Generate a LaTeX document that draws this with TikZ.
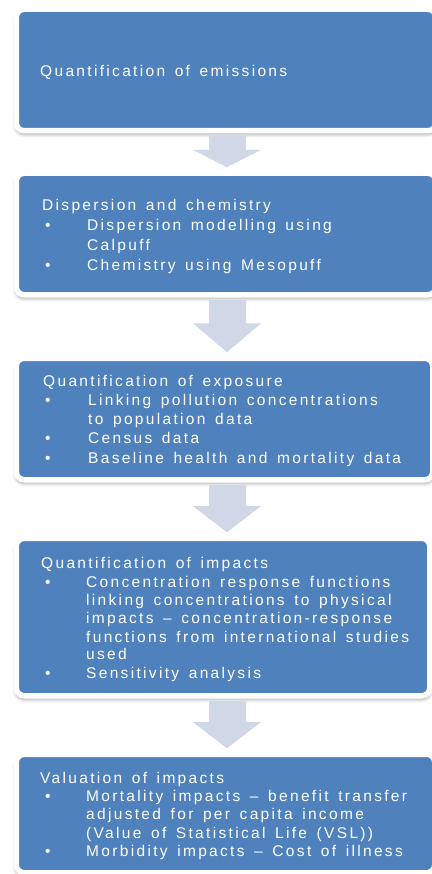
\documentclass[tikz,border=0pt]{standalone}
\usepackage{fontspec}
\setmainfont{Liberation Sans}[LetterSpace=15,WordSpace=1.45]
\usetikzlibrary{calc,shadows.blur}
\definecolor{boxblue}{HTML}{4F81BD}
\definecolor{arrowblue}{HTML}{D0D8E8}
\tikzset{
  stage/.style={draw=white, line width=5.5pt, fill=boxblue, rounded corners=8pt, inner sep=0pt,
    blur shadow={shadow xshift=0pt, shadow yshift=-3pt, shadow blur radius=4pt, shadow blur steps=6, shadow opacity=45}},
  txt/.style={anchor=base west, inner sep=0pt, text=white, font=\fontsize{15.5pt}{19pt}\selectfont},
  arrowfill/.style={fill=arrowblue}
}
\newcommand\blockarrow[2]{%
  \fill[arrowfill] let \p1=(#1.south), \p2=(#2.north),
    \n1={\y1-2.25pt}, \n2={\y2+3.25pt}, \n3={\n1+0.45*(\n2-\n1)} in
    (209pt,\n1) -- (209pt,\n3) -- (193pt,\n3) -- (227pt,\n2) -- (261pt,\n3)
    -- (246pt,\n3) -- (246pt,\n1) -- cycle;}
\begin{document}
\begin{tikzpicture}[x=1pt,y=-1pt]
\useasboundingbox (0,0) rectangle (431,874);
% boxes
\node[stage, minimum width=419.5pt, minimum height=121.5pt] (box1) at (226,70) {};
\node[stage, minimum width=419.5pt, minimum height=121.5pt] (box2) at (226,234) {};
\node[stage, minimum width=416.5pt, minimum height=121.5pt] (box3) at (224.5,419) {};
\node[stage, minimum width=413.5pt, minimum height=157.5pt] (box4) at (223,617) {};
\node[stage, minimum width=418.5pt, minimum height=118.5pt] (box5) at (225.5,813.5) {};
% arrows
\blockarrow{box1}{box2}
\blockarrow{box2}{box3}
\blockarrow{box3}{box4}
\blockarrow{box4}{box5}
% box 1
\node[txt] (t1) at (40,77) {Quantification of emissions};
% box 2
\node[txt] (t2) at (42,210.7) {Dispersion and chemistry};
\node[txt] (t2b1) at (45,230.5) {•};
\node[txt] (t2a) at (87,230.5) {Dispersion modelling using};
\node[txt] (t2c) at (87,250.3) {Calpuff};
\node[txt] (t2b2) at (45,270) {•};
\node[txt] (t2d) at (87,270) {Chemistry using Mesopuff};
% box 3
\node[txt] (t3) at (43,386) {Quantification of exposure};
\node[txt] (t3b1) at (45,405) {•};
\node[txt] (t3a) at (88,405) {Linking pollution concentrations};
\node[txt] (t3c) at (88,424) {to population data};
\node[txt] (t3b2) at (45,443) {•};
\node[txt] (t3d) at (88,443) {Census data};
\node[txt] (t3b3) at (45,463) {•};
\node[txt] (t3e) at (88,463) {Baseline health and mortality data};
% box 4
\node[txt] (t4) at (41,568) {Quantification of impacts};
\node[txt] (t4b1) at (45,587) {•};
\node[txt] (t4a) at (86,587) {Concentration response functions};
\node[txt] (t4c) at (86,605) {linking concentrations to physical};
\node[txt] (t4d) at (86,623) {impacts – concentration-response};
\node[txt] (t4e) at (86,642) {functions from international studies};
\node[txt] (t4f) at (86,659) {used};
\node[txt] (t4b2) at (45,678) {•};
\node[txt] (t4g) at (86,678) {Sensitivity analysis};
% box 5
\node[txt] (t5) at (40,783) {Valuation of impacts};
\node[txt] (t5b1) at (45,801) {•};
\node[txt] (t5a) at (86,801) {Mortality impacts – benefit transfer};
\node[txt] (t5c) at (86,819) {adjusted for per capita income};
\node[txt] (t5d) at (86,838) {(Value of Statistical Life (VSL))};
\node[txt] (t5b2) at (45,856) {•};
\node[txt] (t5e) at (86,856) {Morbidity impacts – Cost of illness};
\end{tikzpicture}
\end{document}
